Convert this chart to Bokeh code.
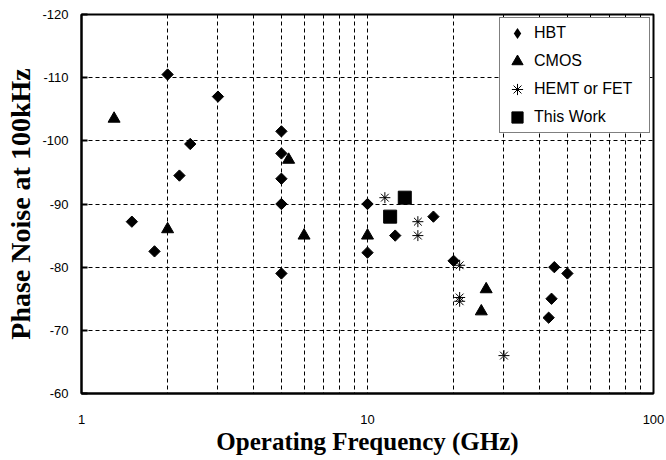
import math
from bokeh.plotting import figure
from bokeh.models import Range1d, FixedTicker, Legend, LegendItem
from bokeh.embed import file_html
from bokeh.resources import INLINE

# ---- data ----
hbt_freq = [2, 3, 2.4, 2.2, 5, 5, 5, 5, 1.5, 1.8, 5, 10, 17, 12.5, 10, 20, 45, 50, 44, 43]
hbt_noise = [-110.5, -107, -99.5, -94.5, -101.5, -98, -94, -90, -87.2, -82.5, -79,
             -90, -88, -85, -82.3, -81, -80, -79, -75, -72]

cmos_freq = [1.3, 5.3, 2, 6, 10, 26, 25]
cmos_noise = [-103.5, -97, -86, -85, -85, -76.5, -73]

hemt_freq = [11.5, 15, 15, 21, 21, 21, 30]
hemt_noise = [-91, -87.2, -85, -80.3, -75.2, -74.6, -66]

work_freq = [13.5, 12]
work_noise = [-91, -88]

series_names = ["HBT", "CMOS", "HEMT or FET", "This Work"]

y_ticks = [-120, -110, -100, -90, -80, -70, -60]
y_tick_labels = ["-120", "-110", "-100", "-90", "-80", "-70", "-60"]
x_ticks = [1, 10, 100]
x_tick_labels = ["1", "10", "100"]
x_minor = [m * d for d in (1, 10) for m in range(2, 10)]

p = figure(width=666, height=460, x_axis_type="log",
           x_range=Range1d(1, 100), y_range=Range1d(-60, -120),
           output_backend="svg", toolbar_location=None,
           min_border_left=81, min_border_right=13, min_border_top=14, min_border_bottom=67,
           x_axis_label="Operating Frequency (GHz)",
           y_axis_label="Phase Noise at 100kHz")

p.background_fill_color = "white"
p.border_fill_color = "white"
p.outline_line_color = "black"
p.outline_line_width = 2

# axes
p.xaxis.ticker = FixedTicker(ticks=x_ticks, minor_ticks=x_minor)
p.yaxis.ticker = FixedTicker(ticks=y_ticks)
p.xaxis.major_label_overrides = dict(zip(x_ticks, x_tick_labels))
p.yaxis.major_label_overrides = dict(zip(y_ticks, y_tick_labels))

for ax in (p.xaxis, p.yaxis):
    ax.axis_line_color = "black"
    ax.axis_line_width = 2
    ax.minor_tick_line_color = None
    ax.major_label_text_font = "Liberation Sans"
    ax.major_label_text_font_size = "13px"
    ax.major_label_text_color = "black"
    ax.axis_label_text_font = "Liberation Serif"
    ax.axis_label_text_font_style = "bold"
    ax.axis_label_text_color = "black"

p.xaxis.axis_label_text_font_size = "25px"
p.yaxis.axis_label_text_font_size = "28px"
p.xaxis.major_tick_in = 0
p.xaxis.major_tick_out = 0
p.xaxis.major_label_standoff = 17
p.xaxis.axis_label_standoff = 1
p.yaxis.major_tick_in = 6
p.yaxis.major_tick_out = 0
p.yaxis.major_tick_line_width = 2
p.yaxis.major_tick_line_color = "black"
p.yaxis.major_label_standoff = 13
p.yaxis.axis_label_standoff = 3

# grid
p.xgrid.grid_line_color = "black"
p.xgrid.grid_line_dash = "4 3"
p.xgrid.grid_line_width = 1
p.xgrid.minor_grid_line_color = "black"
p.xgrid.minor_grid_line_dash = "4 3"
p.xgrid.minor_grid_line_width = 1
p.ygrid.grid_line_color = "black"
p.ygrid.grid_line_dash = "4 3"
p.ygrid.grid_line_width = 1

# data
p.scatter(hbt_freq, hbt_noise, marker="square", angle=math.pi / 4, size=8,
          fill_color="black", line_color="black")
r_cmos = p.scatter(cmos_freq, cmos_noise, marker="triangle", size=12,
                   fill_color="black", line_color="black")
r_hemt = p.scatter(hemt_freq, hemt_noise, marker="asterisk", size=11,
                   line_color="black", line_width=1)
r_work = p.scatter(work_freq, work_noise, marker="square", size=13,
                   fill_color="black", line_color="black")

# zero-size diamond on the same HBT data: invisible in the plot, gives the legend glyph
r_hbt_leg = p.scatter(hbt_freq, hbt_noise, marker="diamond", size=0,
                      fill_color="black", line_color=None)

legend = Legend(items=[
    LegendItem(label=series_names[0], renderers=[r_hbt_leg]),
    LegendItem(label=series_names[1], renderers=[r_cmos]),
    LegendItem(label=series_names[2], renderers=[r_hemt]),
    LegendItem(label=series_names[3], renderers=[r_work]),
], location="top_right")
legend.border_line_color = "black"
legend.border_line_width = 1
legend.background_fill_color = "white"
legend.background_fill_alpha = 1
legend.padding = 1
legend.spacing = 0
legend.margin = 3
legend.glyph_width = 32
legend.glyph_height = 28
legend.label_height = 28
legend.label_standoff = 1
legend.label_width = 114
legend.label_text_font = "Liberation Sans"
legend.label_text_font_size = "16px"
legend.label_text_color = "black"
p.add_layout(legend)

open("out.html", "w").write(file_html(p, INLINE))
